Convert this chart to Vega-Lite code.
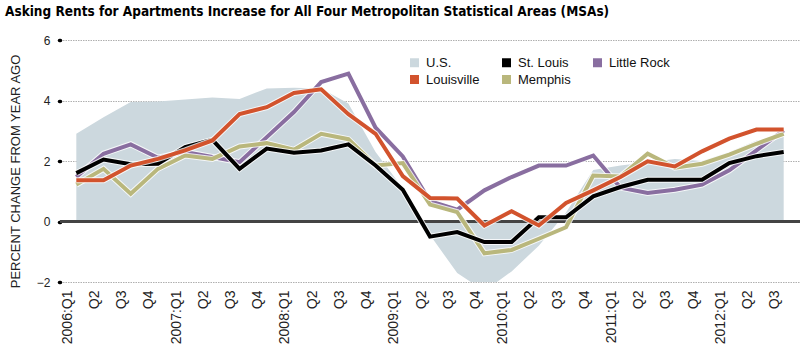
{
  "$schema": "https://vega.github.io/schema/vega-lite/v6.json",
  "autosize": {"type": "none"},
  "width": 740,
  "height": 242,
  "padding": {"left": 60, "top": 40, "right": 0, "bottom": 78},
  "background": "white",
  "title": {
    "text": "Asking Rents for Apartments Increase for All Four Metropolitan Statistical Areas (MSAs)",
    "anchor": "start",
    "frame": "group",
    "dx": -55,
    "offset": 16,
    "font": "DejaVu Sans Condensed, sans-serif",
    "fontSize": 13.5,
    "fontWeight": "bold",
    "color": "#000000"
  },
  "config": {
    "view": {"stroke": null},
    "axis": {"labelFont": "Liberation Sans", "titleFont": "Liberation Sans"},
    "legend": {"labelFont": "Liberation Sans"}
  },
  "data": {
    "values": [
      {"q": "2006:Q1", "us": 2.9, "stl": 1.6, "lou": 1.36, "lr": 1.47, "mem": 1.22},
      {"q": "2006:Q2", "us": 3.45, "stl": 2.05, "lou": 1.36, "lr": 2.24, "mem": 1.74},
      {"q": "2006:Q3", "us": 3.95, "stl": 1.89, "lou": 1.85, "lr": 2.55, "mem": 0.92},
      {"q": "2006:Q4", "us": 3.97, "stl": 1.91, "lou": 2.07, "lr": 2.11, "mem": 1.74},
      {"q": "2007:Q1", "us": 4.03, "stl": 2.46, "lou": 2.35, "lr": 2.3, "mem": 2.18},
      {"q": "2007:Q2", "us": 4.1, "stl": 2.7, "lou": 2.68, "lr": 2.13, "mem": 2.07},
      {"q": "2007:Q3", "us": 4.05, "stl": 1.74, "lou": 3.55, "lr": 1.96, "mem": 2.48},
      {"q": "2007:Q4", "us": 4.4, "stl": 2.41, "lou": 3.78, "lr": 2.79, "mem": 2.59},
      {"q": "2008:Q1", "us": 4.42, "stl": 2.27, "lou": 4.25, "lr": 3.62, "mem": 2.37},
      {"q": "2008:Q2", "us": 4.4, "stl": 2.35, "lou": 4.37, "lr": 4.61, "mem": 2.9},
      {"q": "2008:Q3", "us": 3.9, "stl": 2.55, "lou": 3.55, "lr": 4.89, "mem": 2.72},
      {"q": "2008:Q4", "us": 2.3, "stl": 1.85, "lou": 2.9, "lr": 3.1, "mem": 1.85},
      {"q": "2009:Q1", "us": 1.1, "stl": 1.05, "lou": 1.5, "lr": 2.15, "mem": 1.93},
      {"q": "2009:Q2", "us": -0.45, "stl": -0.5, "lou": 0.78, "lr": 0.67, "mem": 0.56},
      {"q": "2009:Q3", "us": -1.7, "stl": -0.35, "lou": 0.76, "lr": 0.39, "mem": 0.31},
      {"q": "2009:Q4", "us": -2.3, "stl": -0.68, "lou": -0.13, "lr": 1.03, "mem": -1.05},
      {"q": "2010:Q1", "us": -1.65, "stl": -0.68, "lou": 0.34, "lr": 1.47, "mem": -0.94},
      {"q": "2010:Q2", "us": -0.8, "stl": 0.14, "lou": -0.13, "lr": 1.85, "mem": -0.57},
      {"q": "2010:Q3", "us": 0.3, "stl": 0.14, "lou": 0.61, "lr": 1.85, "mem": -0.19},
      {"q": "2010:Q4", "us": 1.7, "stl": 0.83, "lou": 1.03, "lr": 2.18, "mem": 1.52},
      {"q": "2011:Q1", "us": 1.85, "stl": 1.14, "lou": 1.47, "lr": 1.12, "mem": 1.49},
      {"q": "2011:Q2", "us": 1.96, "stl": 1.38, "lou": 1.99, "lr": 0.94, "mem": 2.24},
      {"q": "2011:Q3", "us": 2.07, "stl": 1.38, "lou": 1.82, "lr": 1.05, "mem": 1.78},
      {"q": "2011:Q4", "us": 2.0, "stl": 1.38, "lou": 2.32, "lr": 1.22, "mem": 1.91},
      {"q": "2012:Q1", "us": 2.3, "stl": 1.93, "lou": 2.74, "lr": 1.69, "mem": 2.21},
      {"q": "2012:Q2", "us": 2.68, "stl": 2.16, "lou": 3.04, "lr": 2.35, "mem": 2.57},
      {"q": "2012:Q3", "us": 2.79, "stl": 2.3, "lou": 3.04, "lr": 3.01, "mem": 2.9}
    ]
  },
  "transform": [
    {"fold": ["us", "stl", "lr", "lou", "mem"], "as": ["key", "v"]},
    {"lookup": "key", "from": {"data": {"values": [
      {"key": "us", "series": "U.S."},
      {"key": "stl", "series": "St. Louis"},
      {"key": "lr", "series": "Little Rock"},
      {"key": "lou", "series": "Louisville"},
      {"key": "mem", "series": "Memphis"}
    ]}, "key": "key", "fields": ["series"]}}
  ],
  "encoding": {
    "x": {
      "field": "q",
      "type": "ordinal",
      "scale": {"type": "point", "padding": 0.6},
      "axis": {
        "title": null,
        "domain": false,
        "ticks": false,
        "grid": false,
        "labelAngle": -90,
        "labelFontSize": 14,
        "labelColor": "#222222",
        "labelPadding": 8,
        "labelOffset": -9,
        "labelExpr": "indexof(datum.value, 'Q1') >= 0 ? datum.value : slice(datum.value, 5)"
      }
    },
    "y": {
      "field": "v",
      "type": "quantitative",
      "scale": {"domain": [-2, 6], "nice": false, "zero": false},
      "axis": {
        "values": [-2, 0, 2, 4, 6],
        "title": "PERCENT CHANGE FROM YEAR AGO",
        "titleFontSize": 13,
        "titleFontWeight": "normal",
        "titleColor": "#222222",
        "titleAngle": -90,
        "titleBaseline": "middle",
        "titleAlign": "center",
        "titleX": -45,
        "titleY": 131,
        "labelFontSize": 12,
        "labelColor": "#222222",
        "labelPadding": 9,
        "domain": false,
        "tickSize": 1,
        "tickWidth": 3.5,
        "tickCap": "round",
        "tickColor": "#000000",
        "grid": true,
        "gridColor": "#b0b0b0",
        "gridDash": [1.5, 1],
        "gridWidth": 1
      }
    },
    "color": {
      "field": "series",
      "type": "nominal",
      "scale": {
        "domain": ["U.S.", "St. Louis", "Little Rock", "Louisville", "Memphis"],
        "range": ["#ccd8de", "#000000", "#896ea0", "#d2532d", "#b9b77c"]
      },
      "legend": {
        "title": null,
        "orient": "none",
        "legendX": 348,
        "legendY": 16,
        "direction": "horizontal",
        "columns": 3,
        "columnPadding": 20,
        "rowPadding": 3,
        "symbolType": "square",
        "symbolSize": 81,
        "symbolStrokeWidth": 0,
        "labelFontSize": 13,
        "labelColor": "#111111",
        "labelOffset": 5
      }
    }
  },
  "layer": [
    {
      "transform": [{"filter": "datum.series === 'U.S.'"}],
      "mark": {"type": "area", "clip": true, "opacity": 1}
    },
    {
      "mark": {"type": "rule", "color": "#444444", "strokeWidth": 1.5},
      "encoding": {"y": {"datum": 0}, "x": null, "color": null}
    },
    {
      "transform": [{"filter": "datum.series === 'Little Rock'"}],
      "mark": {"type": "line", "color": "white", "strokeWidth": 6, "opacity": 0.8},
      "encoding": {"color": null}
    },
    {
      "transform": [{"filter": "datum.series === 'Little Rock'"}],
      "mark": {"type": "line", "strokeWidth": 4, "strokeJoin": "miter"}
    },
    {
      "transform": [{"filter": "datum.series === 'Memphis'"}],
      "mark": {"type": "line", "color": "white", "strokeWidth": 6, "opacity": 0.8},
      "encoding": {"color": null}
    },
    {
      "transform": [{"filter": "datum.series === 'Memphis'"}],
      "mark": {"type": "line", "strokeWidth": 4, "strokeJoin": "miter"}
    },
    {
      "transform": [{"filter": "datum.series === 'St. Louis'"}],
      "mark": {"type": "line", "color": "white", "strokeWidth": 6, "opacity": 0.8},
      "encoding": {"color": null}
    },
    {
      "transform": [{"filter": "datum.series === 'St. Louis'"}],
      "mark": {"type": "line", "strokeWidth": 4, "strokeJoin": "miter"}
    },
    {
      "transform": [{"filter": "datum.series === 'Louisville'"}],
      "mark": {"type": "line", "color": "white", "strokeWidth": 6, "opacity": 0.8},
      "encoding": {"color": null}
    },
    {
      "transform": [{"filter": "datum.series === 'Louisville'"}],
      "mark": {"type": "line", "strokeWidth": 4, "strokeJoin": "miter"}
    }
  ]
}
